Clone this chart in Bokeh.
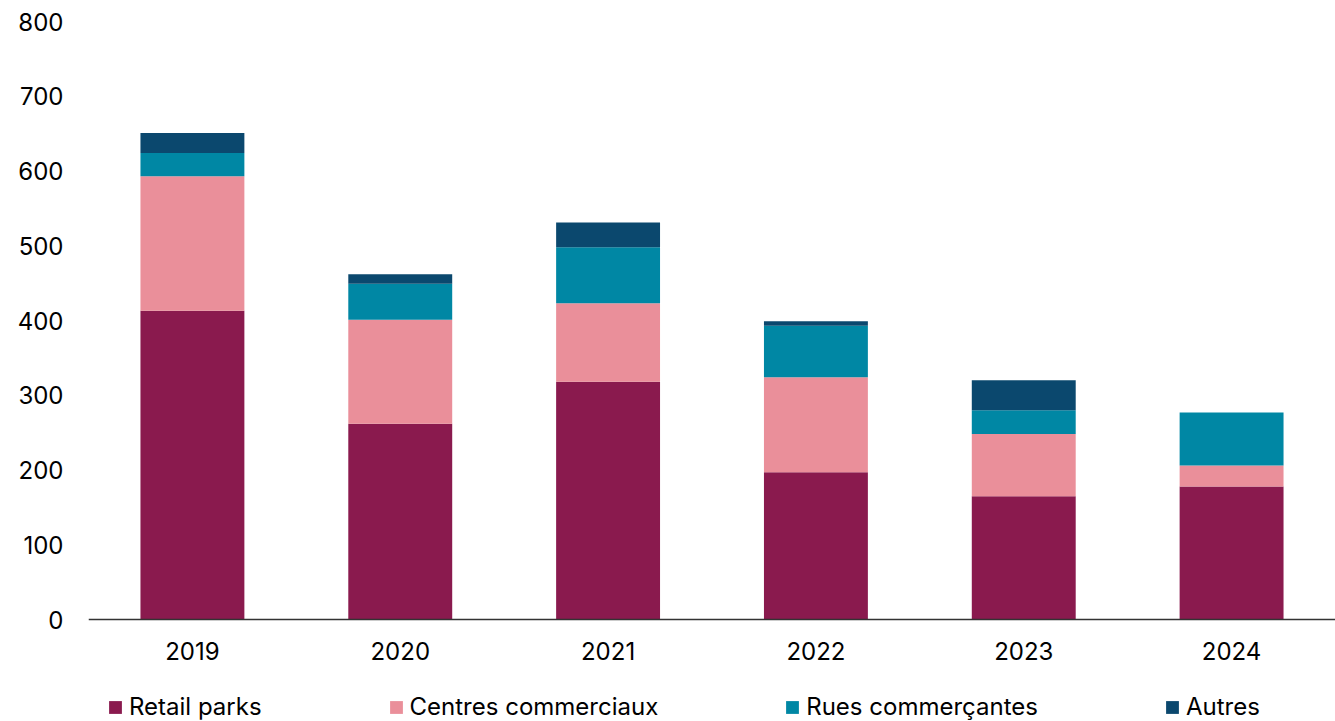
from bokeh.plotting import figure
from bokeh.models import Legend, LegendItem, Range1d, FactorRange, FixedTicker
from bokeh.embed import file_html
from bokeh.resources import INLINE

years = ["2019", "2020", "2021", "2022", "2023", "2024"]
retail_parks = [413, 262, 318, 197, 165, 178]
centres_commerciaux = [180, 139, 105, 127, 83, 28]
rues_commercantes = [31, 48, 75, 69, 32, 71]
autres = [27, 13, 33, 6, 40, 0]
series_names = ["Retail parks", "Centres commerciaux", "Rues commerçantes", "Autres"]
colors = ["#8A1A4E", "#EA8F9A", "#0087A4", "#0B486E"]
y_ticks = [0, 100, 200, 300, 400, 500, 600, 700, 800]

data = dict(years=years, s0=retail_parks, s1=centres_commerciaux, s2=rues_commercantes, s3=autres)

FONT = "Inter"
FS = "24px"

# frame spans from y=21px to the bottom of the canvas; 0 sits at y=619px
y_bottom = -800 * 102 / 598

p = figure(width=1335, height=721, x_range=FactorRange(*years, range_padding=0),
           y_range=Range1d(y_bottom, 800), output_backend="svg", toolbar_location=None,
           min_border_left=88, min_border_right=0, min_border_top=21, min_border_bottom=0)

renderers = p.vbar_stack(["s0", "s1", "s2", "s3"], x="years", width=0.5, color=colors,
                         line_color=None, source=data)

p.outline_line_color = None
p.background_fill_color = "white"
p.border_fill_color = "white"
p.xgrid.grid_line_color = None
p.ygrid.grid_line_color = None

p.yaxis.ticker = FixedTicker(ticks=y_ticks)
p.yaxis.axis_line_color = None
p.yaxis.major_tick_line_color = None
p.yaxis.minor_tick_line_color = None
p.yaxis.major_label_standoff = 19
p.yaxis.major_label_text_font = FONT
p.yaxis.major_label_text_font_size = FS
p.yaxis.major_label_text_color = "#000000"

p.xaxis.fixed_location = 0
p.xaxis.axis_line_color = "#333333"
p.xaxis.axis_line_width = 1.5
p.xaxis.major_tick_line_color = None
p.xaxis.minor_tick_line_color = None
p.xaxis.major_label_standoff = 16
p.xaxis.major_label_text_font = FONT
p.xaxis.major_label_text_font_size = FS
p.xaxis.major_label_text_color = "#000000"

items = [LegendItem(label=n, renderers=[r]) for n, r in zip(series_names, renderers)]
legend = Legend(items=items, orientation="horizontal", label_text_font=FONT,
                label_text_font_size=FS, label_text_color="#000000",
                glyph_width=16, glyph_height=16, label_standoff=6, spacing=126,
                padding=0, margin=0, border_line_color=None, background_fill_alpha=0,
                location=(19, 0))
p.add_layout(legend, "center")

open("out.html", "w").write(file_html(p, INLINE))
